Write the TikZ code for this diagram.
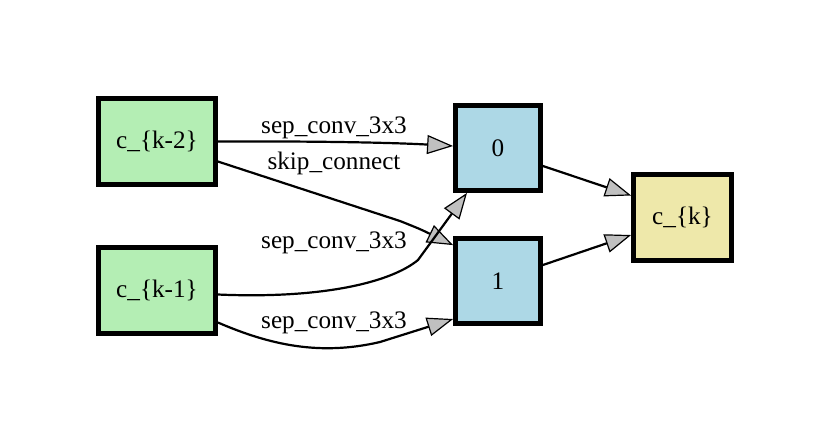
\documentclass[tikz,border=0pt]{standalone}
\usepackage{fontspec}
\setmainfont{Liberation Serif}
\usetikzlibrary{arrows.meta,calc}
\definecolor{ingreen}{RGB}{180,238,180}
\definecolor{midblue}{RGB}{173,216,230}
\definecolor{outyellow}{RGB}{238,232,170}
\definecolor{tipgray}{RGB}{192,192,192}
\begin{document}
\begin{tikzpicture}[x=0.5pt,y=-0.5pt,
  font=\fontsize{12.6}{15}\selectfont,
  box/.style={draw=black,line width=2.4pt,inner sep=0pt,anchor=center},
  inbox/.style={box,fill=ingreen,minimum width=58.5pt,minimum height=43pt},
  midbox/.style={box,fill=midblue,minimum width=42.5pt,minimum height=42.5pt},
  outbox/.style={box,fill=outyellow,minimum width=49pt,minimum height=43pt},
  edge/.style={draw=black,line width=1.1pt,-{Triangle[length=13pt,width=9.5pt,fill=tipgray,line width=0.6pt]}},
  lbl/.style={inner sep=0pt}]
\useasboundingbox (0,0) rectangle (830,447);
\node[inbox] (k2) at (157,141.5) {c\_\{k-2\}};
\node[inbox] (k1) at (157,290.5) {c\_\{k-1\}};
\node[midbox] (n0) at (498,148) {0};
\node[midbox] (n1) at (498,281) {1};
\node[outbox] (ck) at (682.5,217.5) {c\_\{k\}};
% edges
\draw[edge] (k2.east) .. controls (330,141) and (400,143) .. ([yshift=1pt]n0.west);
\draw[edge] ([yshift=-10pt]k2.east) -- (400,221) .. controls (420,229) .. ([yshift=-4.5pt]n1.north west);
\draw[edge] ([yshift=-2pt]k1.east) .. controls (320,299) and (390,283) .. (418,260) -- ([xshift=-15.5pt]n0.south);
\draw[edge] ([yshift=-16pt]k1.east) .. controls (270,345) and (320,356) .. (380,342) -- ([yshift=-19pt]n1.west);
\draw[edge] ([yshift=-9pt]n0.east) -- ([yshift=11pt]ck.west);
\draw[edge] ([yshift=8pt]n1.east) -- ([yshift=-8.75pt]ck.west);
% labels
\node[lbl] (l1) at (334,128) {sep\_conv\_3x3};
\node[lbl] (l2) at (334,163) {skip\_connect};
\node[lbl] (l3) at (334,243) {sep\_conv\_3x3};
\node[lbl] (l4) at (334,323) {sep\_conv\_3x3};
\end{tikzpicture}
\end{document}
